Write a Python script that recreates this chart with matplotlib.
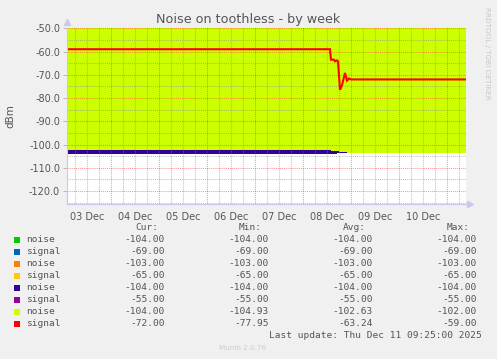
#!/usr/bin/env python3

import numpy as np
import matplotlib
matplotlib.use('Agg')
import matplotlib.pyplot as plt

W, H = 497, 359

# time in hours since 03 Dec 00:00
day_labels = ['03 Dec', '04 Dec', '05 Dec', '06 Dec', '07 Dec', '08 Dec', '09 Dec', '10 Dec']
t_start, t_end = 2.0, 201.5

# dark blue noise (area, hidden by lime except its bottom edge)
blue_t = [2.0, 133.5, 137.0, 142.0]
blue_v = [-104.2, -103.9, -103.7, -103.7]

# lime noise (area)
lime_t = [2.0, 133.5, 134.0, 138.0, 142.0, 201.5]
lime_v = [-102.2, -102.2, -103.0, -103.2, -103.8, -103.8]

# red signal (line)
red_t = [2.0, 133.5, 134.0, 135.5, 136.0, 137.0, 137.5, 138.5, 139.5, 141.0, 142.0, 143.0, 144.0, 201.5]
red_v = [-59.0, -59.0, -63.5, -63.5, -64.2, -63.8, -64.2, -76.5, -74.5, -69.2, -72.5, -71.6, -72.0, -72.0]

# legend table
leg_names = ['noise', 'signal', 'noise', 'signal', 'noise', 'signal', 'noise', 'signal']
leg_colors = ['#00cc00', '#0066b3', '#ff8000', '#ffcc00', '#330099', '#990099', '#ccff00', '#ff0000']
cur_vals = [-104.00, -69.00, -103.00, -65.00, -104.00, -55.00, -104.00, -72.00]
min_vals = [-104.00, -69.00, -103.00, -65.00, -104.00, -55.00, -104.93, -77.95]
avg_vals = [-104.00, -69.00, -103.00, -65.00, -104.00, -55.00, -102.63, -63.24]
max_vals = [-104.00, -69.00, -103.00, -65.00, -104.00, -55.00, -102.00, -59.00]

txt = '#555555'
axis_col = '#c8c8f0'


def px(x, y):
  return x / W, 1 - y / H


fig = plt.figure(figsize=(W / 100, H / 100), dpi=100, facecolor='#f0f0f0')
left, right, top, bottom = 67, 466, 28.3, 204
ax = fig.add_axes([left / W, 1 - bottom / H, (right - left) / W, (bottom - top) / H])
ax.set_facecolor('white')

ax.fill_between(blue_t, blue_v, 0, step='post', color='#330099', lw=0, zorder=1)
ax.fill_between(lime_t, lime_v, 0, step='post', color='#ccff00', lw=0, zorder=2)
ax.plot(red_t, red_v, color='#ff0000', lw=1.5, zorder=5, solid_joinstyle='miter')

ax.set_xlim(t_start, t_end)
ax.set_ylim(-125.6, -50)

# grid
minor_c = (0.55, 0.55, 0.55, 0.55)
major_c = (0.95, 0.2, 0.2, 0.5)
dots = (0, (1, 1))
for h in np.arange(6, t_end, 6):
  is_major = h % 24 == 0
  ax.axvline(h, color=major_c if is_major else minor_c, lw=0.75, ls=dots, zorder=3)
for v in np.arange(-125, -49, 5):
  is_major = v % 10 == 0
  ax.axhline(v, color=major_c if is_major else minor_c, lw=0.75, ls=dots, zorder=3)

ax.set_xticks([12 + 24 * i for i in range(len(day_labels))])
ax.set_xticklabels(day_labels)
yt = np.arange(-120, -49, 10)
ax.set_yticks(yt)
ax.set_yticklabels(['%.1f' % v for v in yt])
ax.tick_params(axis='x', length=0, pad=6, labelsize=7, labelcolor=txt)
ax.tick_params(axis='y', length=3, width=0.6, color='#aaaaaa', pad=2, labelsize=7, labelcolor=txt)
ax.set_ylabel('dBm', fontsize=7.5, color=txt)
ax.yaxis.set_label_coords((15 - left) / (right - left), 0.5)

for s in ['top', 'right']:
  ax.spines[s].set_visible(False)
for s in ['left', 'bottom']:
  ax.spines[s].set_color(axis_col)
  ax.spines[s].set_linewidth(0.8)
  ax.spines[s].set_zorder(6)

# axis arrows
ax.plot([0], [1.035], marker='^', ms=4, color=axis_col, transform=ax.transAxes, clip_on=False)
ax.plot([1.01], [0], marker='>', ms=4, color=axis_col, transform=ax.transAxes, clip_on=False)
ax.plot([1.0, 1.01], [0, 0], color=axis_col, lw=0.8, transform=ax.transAxes, clip_on=False)

fig.text(*px(248, 19), 'Noise on toothless - by week', ha='center', va='center',
         fontsize=9.2, color=txt)
fig.text(*px(487, 53), 'RRDTOOL / TOBI OETIKER', ha='center', va='center',
         rotation=270, fontsize=5.2, color='#c8c8c8')

mono = 'DejaVu Sans Mono'
fs = 6.8
for x, lab in zip([158, 262, 366, 470], ['Cur:', 'Min:', 'Avg:', 'Max:']):
  fig.text(*px(x, 228), lab, ha='right', va='center', family=mono, fontsize=fs, color=txt)

for i in range(len(leg_names)):
  y = 240 + 11.95 * i
  fig.patches.append(plt.Rectangle(px(14, y + 3), 6 / W, 6 / H, transform=fig.transFigure,
                                   color=leg_colors[i], lw=0))
  fig.text(*px(26.5, y), leg_names[i], ha='left', va='center', family=mono, fontsize=fs, color=txt)
  for x, vals in zip([165, 269, 373, 477], [cur_vals, min_vals, avg_vals, max_vals]):
    fig.text(*px(x, y), '%.2f' % vals[i], ha='right', va='center', family=mono, fontsize=fs, color=txt)

fig.text(*px(482, 335), 'Last update: Thu Dec 11 09:25:00 2025', ha='right', va='center',
         family=mono, fontsize=fs, color=txt)
fig.text(*px(243, 348), 'Munin 2.0.76', ha='center', va='center', fontsize=5.2, color='#cccccc')

plt.savefig('out.png', dpi=100, facecolor=fig.get_facecolor())
plt.close()
